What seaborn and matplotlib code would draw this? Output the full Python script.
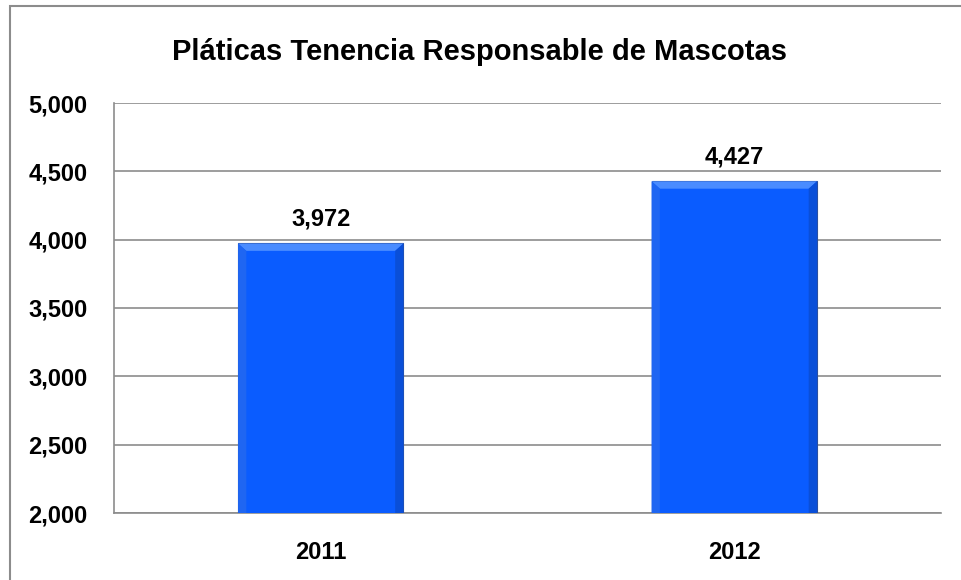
import matplotlib
matplotlib.use("Agg")
import matplotlib.pyplot as plt
import seaborn as sns
import pandas as pd
from matplotlib.patches import Rectangle, Polygon
from matplotlib.ticker import FuncFormatter

years = ["2011", "2012"]
values = [3972, 4427]
title = "Pláticas Tenencia Responsable de Mascotas"

sns.set_theme(style="white")
plt.rcParams['font.family'] = ['Liberation Sans', 'DejaVu Sans']

df = pd.DataFrame({"year": years, "value": values})

fig = plt.figure(figsize=(9.61, 5.80), dpi=100)
W, H = 961, 580
ax = fig.add_axes([114 / W, 1 - 513 / H, (941 - 114) / W, (513 - 103) / H])

sns.barplot(data=df, x="year", y="value", color="#0A5CFF", width=0.40,
            ax=ax, saturation=1, zorder=3)

ax.set_ylim(2000, 5000)
ax.set_yticks(range(2000, 5001, 500))
ax.yaxis.set_major_formatter(FuncFormatter(lambda v, p: f"{int(v):,}"))
ax.grid(axis="y", color="#8c8c8c", linewidth=1.2, zorder=0)
ax.set_axisbelow(True)
for s in ["top", "right"]:
    ax.spines[s].set_visible(False)
for s in ["left", "bottom"]:
    ax.spines[s].set_color("#8c8c8c")
    ax.spines[s].set_linewidth(1.2)
ax.set_xlabel("")
ax.set_ylabel("")
ax.tick_params(axis="both", length=0, labelsize=17)
ax.tick_params(axis="y", pad=19)
ax.tick_params(axis="x", pad=20)
for lab in ax.get_xticklabels() + ax.get_yticklabels():
    lab.set_fontweight("bold")
    lab.set_color("black")

# bevel effect on bars
for bar in ax.patches:
    x0 = bar.get_x(); w = bar.get_width(); h = bar.get_height(); y0 = bar.get_y()
    bar.set_edgecolor("#2a4fa0"); bar.set_linewidth(0.8)
    dx = w * 0.05
    dy = (ax.get_ylim()[1] - ax.get_ylim()[0]) * 0.018
    top = y0 + h
    ax.add_patch(Polygon([(x0, top), (x0 + w, top), (x0 + w - dx, top - dy), (x0 + dx, top - dy)],
                         closed=True, facecolor="#4a8cff", edgecolor="none", zorder=4))
    ax.add_patch(Polygon([(x0, top), (x0 + dx, top - dy), (x0 + dx, y0), (x0, y0)],
                         closed=True, facecolor="#1f66f2", edgecolor="none", zorder=4))
    ax.add_patch(Polygon([(x0 + w, top), (x0 + w - dx, top - dy), (x0 + w - dx, y0), (x0 + w, y0)],
                         closed=True, facecolor="#0a4fd8", edgecolor="none", zorder=4))
    ax.text(x0 + w / 2, top + 95, f"{int(top):,}", ha="center", va="bottom",
            fontsize=17, fontweight="bold", color="black", zorder=5)

fig.text(480 / W, 1 - 52 / H, title, ha="center", va="center",
         fontsize=21, fontweight="bold", color="black")

fig.patches.append(Rectangle((10 / W, -0.05), 1.2, 1 - 6 / H + 0.05, transform=fig.transFigure,
                             fill=False, edgecolor="#8c8c8c", linewidth=1.5, figure=fig))

fig.savefig("out.png", dpi=100)
